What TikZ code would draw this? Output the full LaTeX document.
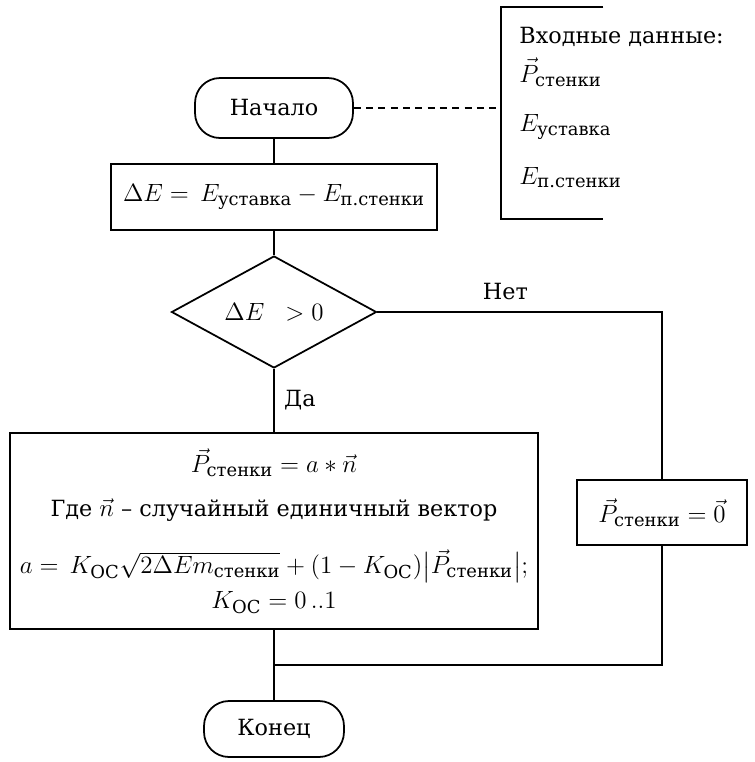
\RequirePackage{fix-cm}
\documentclass[tikz,border=0pt]{standalone}
\usepackage{amsmath}
\usepackage{fontspec}
\setmainfont{DejaVu Serif}
\DeclareMathSizes{12.7}{14.2}{10.2}{7.5}
\usetikzlibrary{shapes.geometric,positioning}
\tikzset{%
  terminal/.style = {draw, rectangle, rounded corners=0.5cm, line width=1pt, align=center},
  block/.style    = {draw, rectangle, line width=1pt, align=center, inner sep=2pt},
  decision/.style = {draw, diamond, aspect=1.83, line width=1pt, inner sep=1pt,
                     minimum width=4.1cm, minimum height=2.24cm},
  line/.style     = {draw, line width=1pt}
}
\newcommand{\Pst}{\vec{P}_{\text{стенки}}}
\newcommand{\Koc}{K_{\text{ОС}}}

\begin{document}
\begin{tikzpicture}[x=0.02cm,y=-0.02cm,font=\fontsize{12.7}{16}\selectfont]
	\useasboundingbox (0,0) rectangle (755,762);
	% blocks
	\node[terminal, minimum width=3.16cm, minimum height=1.2cm] (start) at (274,108) {Начало};
	\node[block, minimum width=6.52cm, minimum height=1.32cm] (de) at (274,197)
		{$\Delta E = \, E_{\text{уставка}} - E_{\text{п.стенки}}$};
	\node[decision] (dia) at (274,312) {$\Delta E\ \ > 0$};
	\node[block, minimum width=10.56cm, minimum height=3.92cm] (big) at (274,531)
		{$\Pst = a * \vec{n}$\\[9pt]
		 Где $\vec{n}$ – случайный единичный вектор\\[15pt]
		 $a = \, \Koc\sqrt{2\Delta E m_{\text{стенки}}} + (1 - \Koc)\bigl|\Pst\bigr|;$\\[4pt]
		 $\Koc = 0\,..1$};
	\node[block, minimum width=3.4cm, minimum height=1.3cm] (zero) at (662,512.5) {$\Pst = \vec{0}$};
	\node[terminal, minimum width=2.8cm, minimum height=1.12cm] (end) at (274,729) {Конец};
	% input data
	\node[minimum width=2.04cm, minimum height=4.24cm] (data) at (552,113) {};
	\node[anchor=north west, align=left, inner sep=0pt] (datatext) at (519,27)
		{Входные данные:\\[6pt]
		 $\Pst$\\[12pt]
		 $E_{\text{уставка}}$\\[14pt]
		 $E_{\text{п.стенки}}$};
	\draw[line] (data.north east) -- (data.north west) -- (data.south west) -- (data.south east);
	\draw[line, dash pattern=on 4pt off 3pt] (start.east) -- (start.east -| data.west);
	% connectors
	\draw[line] (start) -- (de);
	\draw[line] (de) -- (dia);
	\draw[line] (dia) -- node[right=0.07cm] {Да} (big);
	\draw[line] (dia.east) -- node[above=0.11cm, pos=0.45] {Нет} (dia.east -| zero.north) -- (zero.north);
	\coordinate (merge) at (274,665);
	\draw[line] (big) -- (end);
	\draw[line] (zero.south) |- (merge);
\end{tikzpicture}
\end{document}
